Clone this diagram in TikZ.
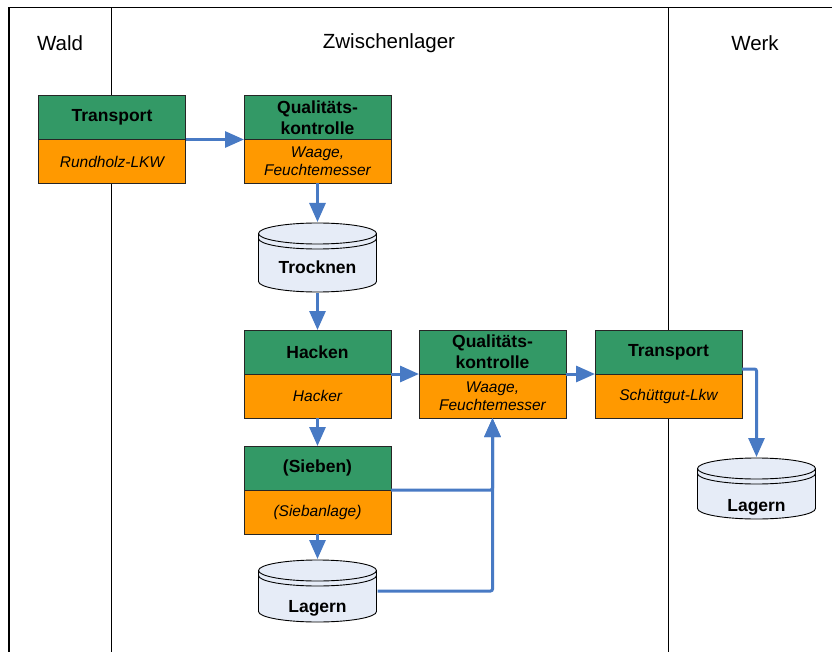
\documentclass[tikz,border=0pt]{standalone}
\usepackage{fontspec}
\setmainfont{Liberation Sans}
\usetikzlibrary{positioning,arrows.meta,calc}
\definecolor{stepgreen}{RGB}{51,153,102}
\definecolor{toolorange}{RGB}{255,153,0}
\definecolor{storefill}{RGB}{230,236,247}
\definecolor{flowblue}{RGB}{72,122,196}
\tikzset{lane/.style = {line width=1.3pt}}
\tikzset{lanetitle/.style = {font=\fontsize{20.5}{24}\selectfont}}
\tikzset{head/.style = {rectangle,draw=black!85,line width=0.9pt,fill=stepgreen,minimum width=147pt,minimum height=44pt,inner sep=1pt,outer sep=0pt,align=center,font=\fontsize{17.5}{20.8}\selectfont\bfseries}}
\tikzset{tool/.style = {rectangle,draw=black!85,line width=0.9pt,fill=toolorange,minimum width=147pt,minimum height=44pt,inner sep=1pt,outer sep=0pt,align=center,font=\fontsize{15.5}{17.7}\selectfont\itshape}}
\tikzset{store/.style = {rectangle,fill=white,minimum width=120pt,minimum height=#1,inner sep=0pt,outer sep=0pt,text depth=0pt,font=\fontsize{17.5}{20}\selectfont\bfseries,
  path picture={
    \draw[fill=storefill,line width=0.9pt]
      ([shift={(1pt,-11.5pt)}]path picture bounding box.north west)
      -- ([shift={(1pt,11.5pt)}]path picture bounding box.south west)
      arc[start angle=180,end angle=360,x radius=59pt,y radius=10.5pt]
      -- ([shift={(-1pt,-11.5pt)}]path picture bounding box.north east)
      arc[start angle=0,end angle=180,x radius=59pt,y radius=10.5pt] -- cycle;
    \draw[line width=0.9pt] ([shift={(1pt,-11.5pt)}]path picture bounding box.north west)
      arc[start angle=180,end angle=360,x radius=59pt,y radius=10.5pt];
    \draw[line width=0.9pt] ([shift={(1pt,-16.5pt)}]path picture bounding box.north west)
      arc[start angle=180,end angle=360,x radius=59pt,y radius=10.5pt];
  }}}
\tikzset{flow/.style = {draw=flowblue,line width=3pt,rounded corners=2pt,-{Triangle[length=19pt,width=16pt]}}}

\begin{document}
\begin{tikzpicture}[x=1pt,y=1pt]
\useasboundingbox (0,0) rectangle (832,-652);

\draw[lane] (9,-652) -- (9,-7.5) -- (832,-7.5);
\draw[lane] (111.5,-7.5) -- (111.5,-652);
\draw[lane] (668.5,-7.5) -- (668.5,-652);

\node[lanetitle] (wald) at (60,-43) {Wald};
\node[lanetitle] (zwl) at (389,-43) {Zwischenlager};
\node[lanetitle] (werk) at (755,-43) {Werk};

\node[head] (transA) at (112,-117.5) {Transport};
\node[tool, below=0pt of transA] (transAt) {Rundholz-LKW};
\node[head] (qualA) at (317.5,-117.5) {Qualitäts-\\kontrolle};
\node[tool, below=0pt of qualA] (qualAt) {Waage,\\Feuchtemesser};

\node[store=71pt, text height=32.6pt] (tro) at (317.5,-257.5) {Trocknen};

\node[head] (hack) at (317.5,-352) {Hacken};
\node[tool, below=0pt of hack] (hackt) {Hacker};
\node[head] (qualB) at (492.5,-352) {Qualitäts-\\kontrolle};
\node[tool, below=0pt of qualB] (qualBt) {Waage,\\Feuchtemesser};
\node[head] (transB) at (668.5,-352) {Transport};
\node[tool, below=0pt of transB] (transBt) {Schüttgut-Lkw};

\node[head] (sieb) at (317.5,-468) {(Sieben)};
\node[tool, below=0pt of sieb] (siebt) {(Siebanlage)};

\node[store=64pt, text height=43.4pt] (lagA) at (317.5,-591) {Lagern};
\node[store=63pt, text height=46pt] (lagB) at (756.5,-488.5) {Lagern};

\draw[flow] (transA.south east) -- (qualA.south west);
\draw[flow] (qualAt.south) -- (tro.north);
\draw[flow] (tro.south) -- (hack.north);
\draw[flow] (hack.south east) -- (qualB.south west);
\draw[flow] (qualB.south east) -- (transB.south west);
\draw[flow] ([yshift=5pt]transB.south east) -| (lagB.north);
\draw[flow] (hackt.south) -- (sieb.north);
\draw[flow] (siebt.south) -- (lagA.north);
\draw[flow] (sieb.south east) -| (qualBt.south);
\draw[flow] (lagA.east) -| (qualBt.south);
\end{tikzpicture}
\end{document}
